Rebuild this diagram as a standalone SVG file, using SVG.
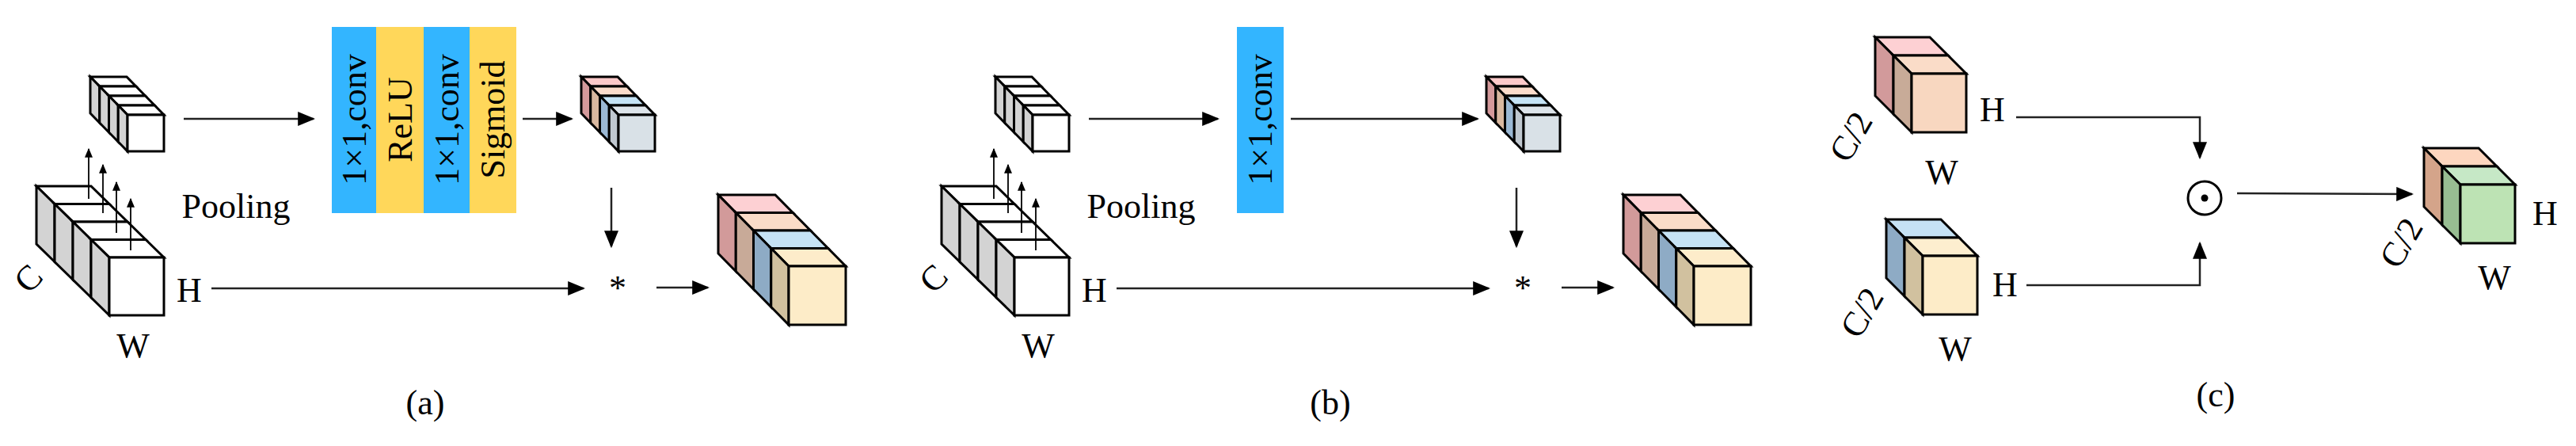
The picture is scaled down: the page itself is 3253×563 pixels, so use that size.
<svg xmlns="http://www.w3.org/2000/svg" width="3253" height="563" viewBox="0 0 3253 563">
<style>
.s{stroke:#000;stroke-width:3;stroke-linejoin:miter}
.t{font-family:"Liberation Serif","Times New Roman",serif;font-size:44px;fill:#000}
.ln{stroke:#222;stroke-width:2.5;fill:none}
.pl{stroke:#000;stroke-width:1.8;fill:none}
</style>
<defs>
<marker id="ah" viewBox="0 0 10 10" refX="9" refY="5" markerWidth="8" markerHeight="8" markerUnits="userSpaceOnUse" orient="auto"><path d="M0,0 L10,5 L0,10 z" fill="#000"/></marker>
<marker id="ahb" viewBox="0 0 10 10" refX="9" refY="5" markerWidth="22" markerHeight="18" markerUnits="userSpaceOnUse" orient="auto" preserveAspectRatio="none"><path d="M0,0 L10,5 L0,10 z" fill="#000"/></marker>
<marker id="ahs" viewBox="0 0 10 10" refX="9" refY="5" markerWidth="12" markerHeight="10" markerUnits="userSpaceOnUse" orient="auto" preserveAspectRatio="none"><path d="M0,0 L10,5 L0,10 z" fill="#000"/></marker>
<polygon id="bt" points="0,0 69,0 46,-22.5 -23,-22.5"/>
<polygon id="bl" points="0,0 0,73 -23,50.5 -23,-22.5"/>
<polygon id="st" points="0,0 46,0 34.25,-12 -11.75,-12"/>
<polygon id="sl" points="0,0 0,46 -11.75,34 -11.75,-12"/>
<polygon id="ot" points="0,0 72,0 49.75,-22.5 -22.25,-22.5"/>
<polygon id="ol" points="0,0 0,74 -22.25,51.5 -22.25,-22.5"/>
<polygon id="ct" points="0,0 69,0 46,-23 -23,-23"/>
<polygon id="cl" points="0,0 0,74 -23,51 -23,-23"/>
</defs>
<rect width="3253" height="563" fill="#fff"/>

<!-- Panel a/b repeated parts -->
<g id="panelA">
<g id="bigCubeA" transform="translate(138,325)">
<g transform="translate(-69,-67.5)"><use href="#bt" class="s" fill="#fff"/><use href="#bl" class="s" fill="#d3d3d3"/></g>
<g transform="translate(-46,-45)"><use href="#bt" class="s" fill="#fff"/><use href="#bl" class="s" fill="#d3d3d3"/></g>
<g transform="translate(-23,-22.5)"><use href="#bt" class="s" fill="#fff"/><use href="#bl" class="s" fill="#d3d3d3"/></g>
<use href="#bt" class="s" fill="#fff"/><use href="#bl" class="s" fill="#d3d3d3"/>
<rect width="69" height="73" class="s" fill="#fff"/>
</g>
<g id="poolArrowsA">
<line x1="112" y1="251" x2="112" y2="188" class="pl" marker-end="url(#ahs)"/>
<line x1="130" y1="269" x2="130" y2="208" class="pl" marker-end="url(#ahs)"/>
<line x1="147" y1="294" x2="147" y2="230" class="pl" marker-end="url(#ahs)"/>
<line x1="165" y1="316" x2="165" y2="251" class="pl" marker-end="url(#ahs)"/>
</g>
<g id="pooledA" transform="translate(161,145)">
<g transform="translate(-35.25,-36)"><use href="#st" class="s" fill="#fff"/><use href="#sl" class="s" fill="#d3d3d3"/></g>
<g transform="translate(-23.5,-24)"><use href="#st" class="s" fill="#fff"/><use href="#sl" class="s" fill="#d3d3d3"/></g>
<g transform="translate(-11.75,-12)"><use href="#st" class="s" fill="#fff"/><use href="#sl" class="s" fill="#d3d3d3"/></g>
<use href="#st" class="s" fill="#fff"/><use href="#sl" class="s" fill="#d3d3d3"/>
<rect width="46" height="46" class="s" fill="#fff"/>
</g>
<g id="attA" transform="translate(781,145)">
<g transform="translate(-35.25,-36)"><use href="#st" class="s" fill="#fcc9c9"/><use href="#sl" class="s" fill="#d4999b"/></g>
<g transform="translate(-23.5,-24)"><use href="#st" class="s" fill="#fbdccb"/><use href="#sl" class="s" fill="#d9b8a0"/></g>
<g transform="translate(-11.75,-12)"><use href="#st" class="s" fill="#c5e3f5"/><use href="#sl" class="s" fill="#9bb8d4"/></g>
<use href="#st" class="s" fill="#dde4ea"/><use href="#sl" class="s" fill="#c0c8d0"/>
<rect width="46" height="46" class="s" fill="#d9e1e7"/>
</g>
<g id="outA" transform="translate(996,336)">
<g transform="translate(-66.75,-67.5)"><use href="#ot" class="s" fill="#fdd0d3"/><use href="#ol" class="s" fill="#d29a9a"/></g>
<g transform="translate(-44.5,-45)"><use href="#ot" class="s" fill="#fadcc8"/><use href="#ol" class="s" fill="#c8aa98"/></g>
<g transform="translate(-22.25,-22.5)"><use href="#ot" class="s" fill="#c6e2f4"/><use href="#ol" class="s" fill="#8eabc5"/></g>
<use href="#ot" class="s" fill="#fdecca"/><use href="#ol" class="s" fill="#d1c19f"/>
<rect width="72" height="74" class="s" fill="#fdecc8"/>
</g>
<g id="labelsA">
<text class="t" transform="translate(46,362) rotate(-45)" text-anchor="middle">C</text>
<text class="t" x="239" y="381" text-anchor="middle">H</text>
<text class="t" x="168" y="451" text-anchor="middle">W</text>
<text class="t" x="298" y="275" text-anchor="middle" font-size="40">Pooling</text>
<text class="t" x="780" y="378" text-anchor="middle">*</text>
<text class="t" x="537" y="523" text-anchor="middle">(a)</text>
</g>
</g>

<g id="convsA">
<rect x="419" y="34" width="56" height="235" fill="#33b5ff"/>
<rect x="475" y="34" width="60" height="235" fill="#ffd75a"/>
<rect x="535" y="34" width="58" height="235" fill="#33b5ff"/>
<rect x="593" y="34" width="59" height="235" fill="#ffd75a"/>
<text class="t" font-size="42" transform="translate(462,151) rotate(-90)" text-anchor="middle">1×1,conv</text>
<text class="t" font-size="42" transform="translate(520,151) rotate(-90)" text-anchor="middle">ReLU</text>
<text class="t" font-size="42" transform="translate(579,151) rotate(-90)" text-anchor="middle">1×1,conv</text>
<text class="t" font-size="42" transform="translate(637,151) rotate(-90)" text-anchor="middle">Sigmoid</text>
</g>

<use id="panelB" href="#panelA" transform="translate(1143,0)"/>
<g id="labelB"><rect x="1562" y="34" width="59" height="235" fill="#33b5ff"/>
<text class="t" font-size="42" transform="translate(1606,151) rotate(-90)" text-anchor="middle">1×1,conv</text>
<rect x="1660" y="480" width="45" height="55" fill="#fff"/>
<text class="t" x="1680" y="523" text-anchor="middle">(b)</text></g>

<!-- Panel c -->
<g id="cubeC1" transform="translate(2414,93)">
<g transform="translate(-23,-23)"><use href="#ct" class="s" fill="#fdd0d3"/><use href="#cl" class="s" fill="#d29a9b"/></g>
<use href="#ct" class="s" fill="#fadcc8"/><use href="#cl" class="s" fill="#c8ab98"/>
<rect width="69" height="74" class="s" fill="#f8d7c0"/>
</g>
<g id="cubeC2" transform="translate(2428,323)">
<g transform="translate(-23,-23)"><use href="#ct" class="s" fill="#c6e2f4"/><use href="#cl" class="s" fill="#8eabc5"/></g>
<use href="#ct" class="s" fill="#fdeecf"/><use href="#cl" class="s" fill="#d1c19f"/>
<rect width="69" height="74" class="s" fill="#fdecc8"/>
</g>
<g id="cubeC3" transform="translate(3107,233)">
<g transform="translate(-23,-23)"><use href="#ct" class="s" fill="#fdd6bf"/><use href="#cl" class="s" fill="#d4a48a"/></g>
<use href="#ct" class="s" fill="#c6e8c6"/><use href="#cl" class="s" fill="#98bd92"/>
<rect width="69" height="74" class="s" fill="#bde3b4"/>
</g>
<g id="odot"><circle cx="2784" cy="250" r="21" fill="none" stroke="#000" stroke-width="3"/><circle cx="2784" cy="250" r="4.5" fill="#000"/></g>
<g id="labelsC">
<text class="t" transform="translate(2350,180) rotate(-60)" text-anchor="middle">C/2</text>
<text class="t" x="2516" y="153" text-anchor="middle">H</text>
<text class="t" x="2452" y="232" text-anchor="middle">W</text>
<text class="t" transform="translate(2364,402) rotate(-60)" text-anchor="middle">C/2</text>
<text class="t" x="2532" y="374" text-anchor="middle">H</text>
<text class="t" x="2469" y="455" text-anchor="middle">W</text>
<text class="t" transform="translate(3045,314) rotate(-60)" text-anchor="middle">C/2</text>
<text class="t" x="3214" y="284" text-anchor="middle">H</text>
<text class="t" x="3150" y="365" text-anchor="middle">W</text>
<text class="t" x="2798" y="513" text-anchor="middle">(c)</text>
</g>

<g id="connectors">
<line x1="232" y1="150" x2="396" y2="150" class="ln" marker-end="url(#ahb)"/>
<line x1="660" y1="150" x2="722" y2="150" class="ln" marker-end="url(#ahb)"/>
<line x1="772" y1="237" x2="772" y2="311" class="ln" stroke-width="2" marker-end="url(#ahb)"/>
<line x1="267" y1="364" x2="737" y2="364" class="ln" marker-end="url(#ahb)"/>
<line x1="829" y1="363" x2="894" y2="363" class="ln" marker-end="url(#ahb)"/>
<line x1="1375" y1="150" x2="1538" y2="150" class="ln" marker-end="url(#ahb)"/>
<line x1="1630" y1="150" x2="1866" y2="150" class="ln" marker-end="url(#ahb)"/>
<line x1="1915" y1="237" x2="1915" y2="311" class="ln" stroke-width="2" marker-end="url(#ahb)"/>
<line x1="1410" y1="364" x2="1880" y2="364" class="ln" marker-end="url(#ahb)"/>
<line x1="1972" y1="363" x2="2037" y2="363" class="ln" marker-end="url(#ahb)"/>
<polyline points="2546,148 2778,148 2778,199" class="ln" stroke-width="2" marker-end="url(#ahb)"/>
<polyline points="2559,360 2778,360 2778,307" class="ln" stroke-width="2" marker-end="url(#ahb)"/>
<line x1="2825" y1="244" x2="3046" y2="245" class="ln" marker-end="url(#ahb)"/>
</g>
</svg>
